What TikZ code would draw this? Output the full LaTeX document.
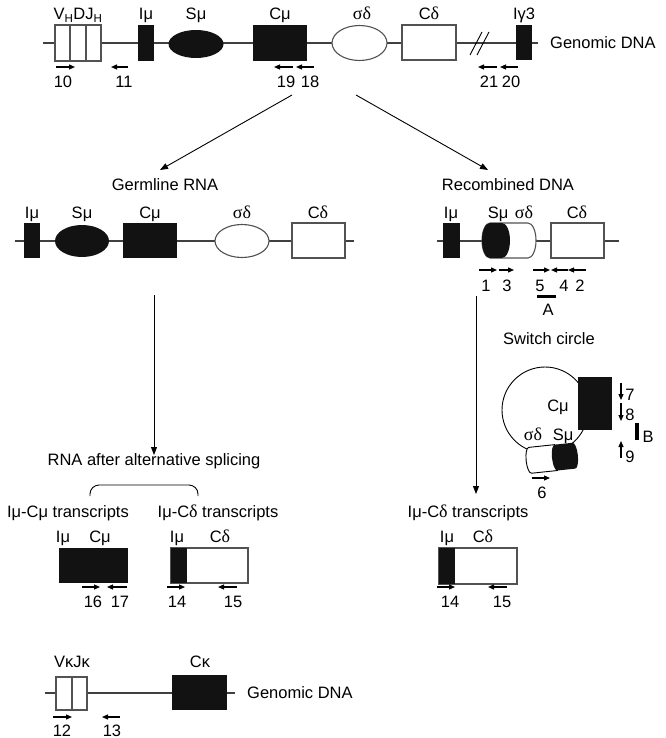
\documentclass[tikz,border=0pt]{standalone}
\usepackage{fontspec}
\setmainfont{Liberation Sans}
\newfontfamily\grk{Liberation Serif}
\usetikzlibrary{arrows.meta}
\newcommand{\sgd}{{\grk\fontsize{18}{20}\selectfont σδ}}
\newcommand{\dlt}{{\grk\fontsize{18}{20}\selectfont δ}}
\begin{document}
\begin{tikzpicture}[x=1pt,y=-1pt,
  font=\fontsize{16.5}{19}\selectfont,
  t/.style={anchor=base,inner sep=0pt},
  bb/.style={line width=1.1pt,draw=black!75},
  wbox/.style={draw=black!68,line width=1.1pt,fill=white},
  bbox/.style={fill=black!93},
  primer/.style={line width=1.2pt,-{Triangle[length=6pt,width=5pt]}},
  conn/.style={line width=0.9pt,-{Triangle[length=8pt,width=6pt]}}]
\useasboundingbox (0,0) rectangle (665,738);

% ---------------- top genomic DNA ----------------
\draw[bb] (43,43) -- (538,43);
\draw[wbox] (55,25) rectangle (101,61);
\draw[draw=black!68,line width=1.1pt] (70,25) -- (70,61) (86,25) -- (86,61);
\fill[bbox] (138,25) rectangle (154,61);
\fill[bbox] (196,44) ellipse[x radius=27.5,y radius=14];
\fill[bbox] (253,25) rectangle (307,61);
\draw[wbox] (359.5,43) ellipse[x radius=27.5,y radius=17.5];
\draw[wbox] (402,25) rectangle (456,60);
\draw[line width=0.9pt] (470,55) -- (482,32) (477,55) -- (489,32);
\fill[bbox] (516,25) rectangle (532,60);
\node[t] (tv) at (78,20) {V\textsubscript{H}DJ\textsubscript{H}};
\node[t] (ti) at (146,20) {Iμ};
\node[t] (ts) at (196,20) {Sμ};
\node[t] (tc) at (280,20) {Cμ};
\node[t] (tsd) at (362,20) {\sgd};
\node[t] (tcd) at (429,20) {C\dlt};
\node[t] (tig) at (524,20) {Iγ3};
\node[anchor=west,inner sep=0pt] (tg) at (550,43) {Genomic DNA};
\draw[primer] (56,67) -- (75,67);
\draw[primer] (128,67) -- (111,67);
\draw[primer] (293,67) -- (274,67);
\draw[primer] (314,67) -- (296,67);
\draw[primer] (497,67) -- (478,67);
\draw[primer] (518,67) -- (500,67);
\node[t] (n10) at (63,88) {10};
\node[t] (n11) at (124,88) {11};
\node[t] (n19) at (286,88) {19};
\node[t] (n18) at (310,88) {18};
\node[t] (n21) at (489,88) {21};
\node[t] (n20) at (511,88) {20};

% ---------------- connectors from top ----------------
\coordinate (a1) at (292,95);
\coordinate (a2) at (356,95);
\node[t] (germ) at (165,190) {Germline RNA};
\node[t] (recomb) at (508,190) {Recombined DNA};
\coordinate (g1) at (160,170);
\coordinate (r1) at (488,170);
\draw[conn] (a1) -- (g1);
\draw[conn] (a2) -- (r1);

% ---------------- germline RNA ----------------
\draw[bb] (15,241) -- (354,241);
\fill[bbox] (24,223) rectangle (40,258);
\fill[bbox] (82,241) ellipse[x radius=27,y radius=16];
\fill[bbox] (123,223) rectangle (177,258);
\draw[wbox] (242,241) ellipse[x radius=27,y radius=16.5];
\draw[wbox] (292,223) rectangle (345,258);
\node[t] (gi) at (32,218) {Iμ};
\node[t] (gs) at (82,218) {Sμ};
\node[t] (gc) at (150,218) {Cμ};
\node[t] (gsd) at (242,218) {\sgd};
\node[t] (gcd) at (318,218) {C\dlt};

% ---------------- recombined DNA ----------------
\draw[bb] (437,241) -- (619,241);
\fill[bbox] (443,223) rectangle (460,258);
\draw[wbox] (490,223) -- (528,223) arc[start angle=-90,end angle=90,x radius=8,y radius=17.5]
  -- (490,258) arc[start angle=90,end angle=270,x radius=8,y radius=17.5] -- cycle;
\fill[bbox] (490,223) arc[start angle=-90,end angle=-270,x radius=8,y radius=17.5]
  -- (502,258) arc[start angle=90,end angle=-90,x radius=8,y radius=17.5] -- cycle;
\draw[wbox] (551,223) rectangle (604,258);
\node[t] (ri) at (451,218) {Iμ};
\node[t] (rs) at (498,218) {Sμ};
\node[t] (rsd) at (524,218) {\sgd};
\node[t] (rcd) at (577,218) {C\dlt};
\draw[primer] (479,270) -- (497,270);
\draw[primer] (499,270) -- (514,270);
\draw[primer] (533,270) -- (550,270);
\draw[primer] (568,270) -- (551,270);
\draw[primer] (586,270) -- (568,270);
\node[t] (n1) at (486,291) {1};
\node[t] (n3) at (507,291) {3};
\node[t] (n5) at (540,291) {5};
\node[t] (n4) at (564,291) {4};
\node[t] (n2) at (580,291) {2};
\draw[line width=3pt] (537,296) -- (556,296);
\node[t] (na) at (548,315) {A};

% ---------------- vertical connectors ----------------
\coordinate (g2) at (154,295);
\coordinate (s1) at (154,455);
\coordinate (r2) at (476,296);
\coordinate (r3) at (476,494);
\draw[conn] (g2) -- (s1);
\draw[conn] (r2) -- (r3);

% ---------------- switch circle ----------------
\node[t] (sw) at (549,344) {Switch circle};
\draw[line width=0.9pt] (545,410) circle[radius=43];
\fill[bbox] (578,377) rectangle (612,430);
\node[t] (swc) at (558,411) {Cμ};
\begin{scope}[shift={(552,458)},rotate=6]
  \draw[fill=white,line width=0.9pt] (-22,-13) arc[start angle=-90,end angle=-270,x radius=4,y radius=13]
    -- (4,13) -- (4,-13) -- cycle;
  \fill[bbox] (4,-13) arc[start angle=-90,end angle=-270,x radius=4,y radius=13]
    -- (22,13) arc[start angle=90,end angle=-90,x radius=4,y radius=13] -- cycle;
\end{scope}
\node[t] (swsd) at (533,440) {\sgd};
\node[t] (sws) at (563,440) {Sμ};
\draw[primer] (532,478) -- (550,478);
\node[t] (n6) at (542,498) {6};
\draw[primer] (621,383) -- (621,400);
\draw[primer] (621,403) -- (621,421);
\draw[primer] (621,458) -- (621,441);
\node[t] (n7) at (630,400) {7};
\node[t] (n8) at (630,420) {8};
\node[t] (n9) at (630,462) {9};
\draw[line width=3.5pt] (637,423) -- (637,440);
\node[t] (nb) at (648,442) {B};

% ---------------- alternative splicing ----------------
\node[t] (alt) at (154,465) {RNA after alternative splicing};
\draw[line width=0.9pt,rounded corners=9pt] (90,496) -- (90,485) -- (198,485) -- (198,496);
\node[t] (tr1) at (68,517) {Iμ-Cμ transcripts};
\node[t] (tr2) at (218,517) {Iμ-C\dlt{} transcripts};
\fill[bbox] (59,548) rectangle (128,583);
\node[t] (t1i) at (63,542) {Iμ};
\node[t] (t1c) at (100,542) {Cμ};
\draw[wbox] (171,548) rectangle (248,583);
\fill[bbox] (171,548) rectangle (187,583);
\node[t] (t2i) at (177,542) {Iμ};
\node[t] (t2c) at (220,542) {C\dlt};
\draw[primer] (82,587) -- (100,587);
\draw[primer] (127,587) -- (107,587);
\draw[primer] (167,587) -- (185,587);
\draw[primer] (237,587) -- (218,587);
\node[t] (n16) at (93,607) {16};
\node[t] (n17) at (120,607) {17};
\node[t] (n14) at (177,607) {14};
\node[t] (n15) at (233,607) {15};

% ---------------- right transcripts ----------------
\node[t] (tr3) at (468,517) {Iμ-C\dlt{} transcripts};
\draw[wbox] (439,548) rectangle (517,584);
\fill[bbox] (439,548) rectangle (455,584);
\node[t] (t3i) at (447,542) {Iμ};
\node[t] (t3c) at (483,542) {C\dlt};
\draw[primer] (437,587) -- (455,587);
\draw[primer] (507,587) -- (488,587);
\node[t] (n14b) at (450,607) {14};
\node[t] (n15b) at (502,607) {15};

% ---------------- kappa genomic DNA ----------------
\draw[bb] (45,693) -- (235,693);
\draw[wbox] (56,677) rectangle (87,710);
\draw[draw=black!68,line width=1.1pt] (72,677) -- (72,710);
\fill[bbox] (172,675) rectangle (227,710);
\node[t] (kv) at (72,667) {VκJκ};
\node[t] (kc) at (200,667) {Cκ};
\node[anchor=west,inner sep=0pt] (kg) at (247,693) {Genomic DNA};
\draw[primer] (53,717) -- (72,717);
\draw[primer] (120,717) -- (102,717);
\node[t] (n12) at (62,736) {12};
\node[t] (n13) at (112,736) {13};
\end{tikzpicture}
\end{document}
